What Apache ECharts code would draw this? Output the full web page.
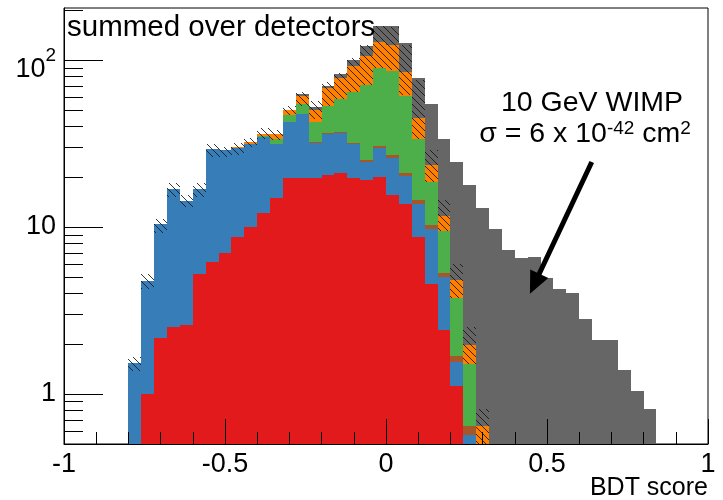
<!DOCTYPE html>
<html><head><meta charset="utf-8">
<script src="https://cdn.jsdelivr.net/npm/echarts@6/dist/echarts.min.js"></script>
<style>html,body{margin:0;padding:0;background:#fff}#c{width:723px;height:500px}</style>
</head><body><div id="c"></div>
<script>
// ---- data ----
const binWidth = 0.04;
const binLow = [-0.80,-0.76,-0.72,-0.68,-0.64,-0.60,-0.56,-0.52,-0.48,-0.44,-0.40,-0.36,-0.32,-0.28,-0.24,-0.20,-0.16,-0.12,-0.08,-0.04,
  0.00,0.04,0.08,0.12,0.16,0.20,0.24,0.28,0.32,0.36,0.40,0.44,0.48,0.52,0.56,0.60,0.64,0.68,0.72,0.76,0.80];
const redBg   = [0,1.00,2.16,2.51,2.59,5.22,6.13,6.94,8.70,10.0,12.07,14.9,19.5,19.5,19.6,20.4,20.9,19.5,19.1,20.0,
  15.6,13.7,8.70,4.57,2.40,1.12,0,0,0,0,0,0,0,0,0,0,0,0,0,0,0];
const blueBg  = [1.53,3.72,8.21,14.4,11.8,11.7,23.2,21.9,20.9,21.2,22.4,16.3,23.1,28.3,12.3,15.5,15.5,11.7,5.4,9.6,
  10.1,6.4,5.0,5.2,2.61,0.43,0.568,0,0,0,0,0,0,0,0,0,0,0,0,0,0];
const brownBg = [0,0,0,0,0,0,0,0,0,0,0,0,0,0,0.5,0.5,0.5,0.7,0.6,0.9,
  1.2,1.0,0.7,0.43,0.28,0.13,0.077,0,0,0,0,0,0,0,0,0,0,0,0,0,0];
const greenBg = [0,0,0,0,0,0,0,0,0.2,0.4,0.7,2.3,4.1,6.4,10.2,16.5,21.9,32.6,45.6,58.6,
  58.9,39.9,19.1,8.4,4.12,2.07,0.865,0,0,0,0,0,0,0,0,0,0,0,0,0,0];
const orangeBg= [0,0,0,0,0,0,0,0,0.3,0.7,1.1,2.3,3.8,6.5,7.9,15.2,19.4,27.8,35.3,39.9,
  37.1,23.2,11.5,5.0,2.29,1.03,0.44,0.637,0,0,0,0,0,0,0,0,0,0,0,0,0];
const wimpSig = [0,0,0,0,0,0,0,0,0,0,0,0,0,2.0,1.7,1.9,3.7,7.6,15,31,
  37,41.6,32.6,30.6,21.8,19.7,15.85,12.4,9.77,7.32,6.48,6.57,4.95,4.26,4.04,2.82,2.09,2.11,1.38,1.04,0.81];
const bandLow  = [1.37,4.26,9.19,15.1,13.2,15.2,26.3,26.3,26.9,30.2,33.5,33.0,46.7,53.1,44.5,53,58.8,64.5,70.7,89.1,
  87,61.5,33.5,18.6,9.4,3.74,1.51,0.46,null,null,null,null,null,null,null,null,null,null,null,null,null];
const bandHigh = [1.66,5.2,11.2,18.3,15.6,18.2,31.6,30.2,31.9,34.3,38.9,37.9,53.1,63.9,56.5,74,83.1,102.2,122.9,160,
  158,123.5,75.8,28.8,14.4,6.02,2.51,0.81,null,null,null,null,null,null,null,null,null,null,null,null,null];
const xRange = [-1, 1];
const yRange = [0.5, 205];
const yMajorTicks = [1, 10, 100];
const yMinorTicks = [0.6,0.7,0.8,0.9,2,3,4,5,6,7,8,9,20,30,40,50,60,70,80,90,200];
const arrowTail = [0.639, 24.5];
const arrowTip = [0.447, 3.98];

// ---- drawing ----
const FONT = "'Liberation Sans', Arial, Helvetica, sans-serif";
const chart = echarts.init(document.getElementById('c'), null, {renderer: 'canvas', width: 723, height: 500});

const hatch = document.createElement('canvas');
hatch.width = 7; hatch.height = 7;
(function () {
  const g = hatch.getContext('2d');
  g.strokeStyle = 'rgba(20,20,20,0.85)';
  g.lineWidth = 1;
  g.beginPath();
  g.moveTo(-1, -1); g.lineTo(8, 8);
  g.moveTo(-1, 6); g.lineTo(1, 8);
  g.moveTo(6, -1); g.lineTo(8, 1);
  g.stroke();
})();

function rectItem(fill) {
  return function (params, api) {
    const x0 = api.value(0), lo = api.value(1), hi = api.value(2);
    if (!(hi > yRange[0]) || !(hi > lo)) return null;
    const a = api.coord([x0, Math.max(lo, yRange[0])]);
    const b = api.coord([x0 + binWidth, Math.min(hi, yRange[1])]);
    const xa = Math.round(a[0]), xb = Math.round(b[0]);
    const ya = Math.round(b[1]), yb = Math.round(a[1]);
    return {type: 'rect', shape: {x: xa, y: ya, width: xb - xa, height: yb - ya}, style: {fill: fill}};
  };
}

const layers = [
  {name: 'red', vals: redBg, color: '#e31a1c'},
  {name: 'blue', vals: blueBg, color: '#377eb8'},
  {name: 'brown', vals: brownBg, color: '#a65628'},
  {name: 'green', vals: greenBg, color: '#4daf4a'},
  {name: 'orange', vals: orangeBg, color: '#ff7f00'},
  {name: 'wimp', vals: wimpSig, color: '#666666'}
];
const cum = binLow.map(() => 0);
const series = [];
layers.forEach((L, k) => {
  const data = binLow.map((x, j) => {
    const b = cum[j];
    const t = b + L.vals[j];
    cum[j] = t;
    return [x, b, t];
  });
  series.push({type: 'custom', name: L.name, coordinateSystem: 'cartesian2d', data: data,
    encode: {x: 0, y: 2}, renderItem: rectItem(L.color), z: 2 + k, silent: true, animation: false});
});
series.push({type: 'custom', name: 'unc', coordinateSystem: 'cartesian2d',
  data: binLow.map((x, j) => [x, bandLow[j] == null ? 0 : bandLow[j], bandHigh[j] == null ? 0 : bandHigh[j]]),
  encode: {x: 0, y: 2}, renderItem: rectItem({image: hatch, repeat: 'repeat'}), z: 9, silent: true, animation: false});

function tickItem(len) {
  return function (params, api) {
    const p = api.coord([xRange[0], api.value(1)]);
    const y = Math.round(p[1]) + 0.5;
    return {type: 'line', shape: {x1: p[0], y1: y, x2: p[0] + len, y2: y}, style: {stroke: '#000', lineWidth: 1}};
  };
}
series.push({type: 'custom', coordinateSystem: 'cartesian2d', data: yMajorTicks.map(v => [xRange[0], v]),
  encode: {x: 0, y: 1}, renderItem: tickItem(39), z: 20, silent: true, animation: false});
series.push({type: 'custom', coordinateSystem: 'cartesian2d', data: yMinorTicks.map(v => [xRange[0], v]),
  encode: {x: 0, y: 1}, renderItem: tickItem(19), z: 20, silent: true, animation: false});

const option = {
  animation: false,
  backgroundColor: '#fff',
  grid: {left: 64, right: 15, top: 8, bottom: 56, show: true, borderColor: '#000', borderWidth: 1, backgroundColor: 'transparent'},
  xAxis: {type: 'value', min: xRange[0], max: xRange[1], interval: 0.5, z: 10,
    axisLine: {show: true, onZero: false, lineStyle: {color: '#000', width: 1}},
    axisTick: {show: true, inside: true, length: 25, lineStyle: {color: '#000', width: 1}},
    minorTick: {show: true, splitNumber: 5, length: 12, lineStyle: {color: '#000', width: 1}},
    splitLine: {show: false},
    axisLabel: {color: '#000', fontSize: 27, fontFamily: FONT, margin: 7, showMinLabel: true, showMaxLabel: true}
  },
  yAxis: {type: 'log', logBase: 10, min: yRange[0], max: yRange[1], z: 10,
    axisLine: {show: true, onZero: false, lineStyle: {color: '#000', width: 1}},
    axisTick: {show: false}, splitLine: {show: false}, minorTick: {show: false},
    axisLabel: {color: '#000', fontFamily: FONT, margin: 8, showMinLabel: false, showMaxLabel: false,
      formatter: function (v) {
        if (Math.abs(v - 100) < 1e-6) return '{b|10}{s|2}';
        if (Math.abs(v - 10) < 1e-6) return '{n|10}';
        if (Math.abs(v - 1) < 1e-6) return '{n|1}';
        return '';
      },
      rich: {
        n: {fontSize: 27, fontFamily: FONT, color: '#000'},
        b: {fontSize: 27, fontFamily: FONT, color: '#000', verticalAlign: 'bottom', padding: [20, 0, 0, 0]},
        s: {fontSize: 19, fontFamily: FONT, color: '#000', verticalAlign: 'top', padding: [10, 0, 0, 0]}
      }
    }
  },
  series: series
};
chart.setOption(option);

// annotations
const tail = chart.convertToPixel({gridIndex: 0}, arrowTail);
const tip = chart.convertToPixel({gridIndex: 0}, arrowTip);
const dx = tip[0] - tail[0], dy = tip[1] - tail[1];
const L = Math.sqrt(dx * dx + dy * dy);
const ux = dx / L, uy = dy / L;
const headLen = 22, headHalf = 10;
const bx = tip[0] - ux * headLen, by = tip[1] - uy * headLen;
chart.setOption({
  graphic: [
    {type: 'text', left: 67, top: 13, z: 50, style: {text: 'summed over detectors', font: "29.5px " + FONT, fill: '#000'}},
    {type: 'text', x: 592, y: 103, z: 50, style: {text: '10 GeV WIMP', font: "28.5px " + FONT, fill: '#000', align: 'center', verticalAlign: 'middle'}},
    {type: 'text', x: 585, y: 134, z: 50, style: {text: 'σ = 6 x 10{s|-42} cm{s|2}', font: "28.5px " + FONT, fill: '#000', align: 'center', verticalAlign: 'middle',
      rich: {s: {fontSize: 19, fontFamily: FONT, fill: '#000', verticalAlign: 'top'}}}},
    {type: 'text', right: 15, top: 476, z: 50, style: {text: 'BDT score', font: "25px " + FONT, fill: '#000'}},
    {type: 'line', z: 50, shape: {x1: tail[0], y1: tail[1], x2: bx + ux * 2, y2: by + uy * 2}, style: {stroke: '#000', lineWidth: 5}},
    {type: 'polygon', z: 50, shape: {points: [[tip[0], tip[1]], [bx - uy * headHalf, by + ux * headHalf], [bx + uy * headHalf, by - ux * headHalf]]}, style: {fill: '#000'}}
  ]
});
</script>
</body></html>
